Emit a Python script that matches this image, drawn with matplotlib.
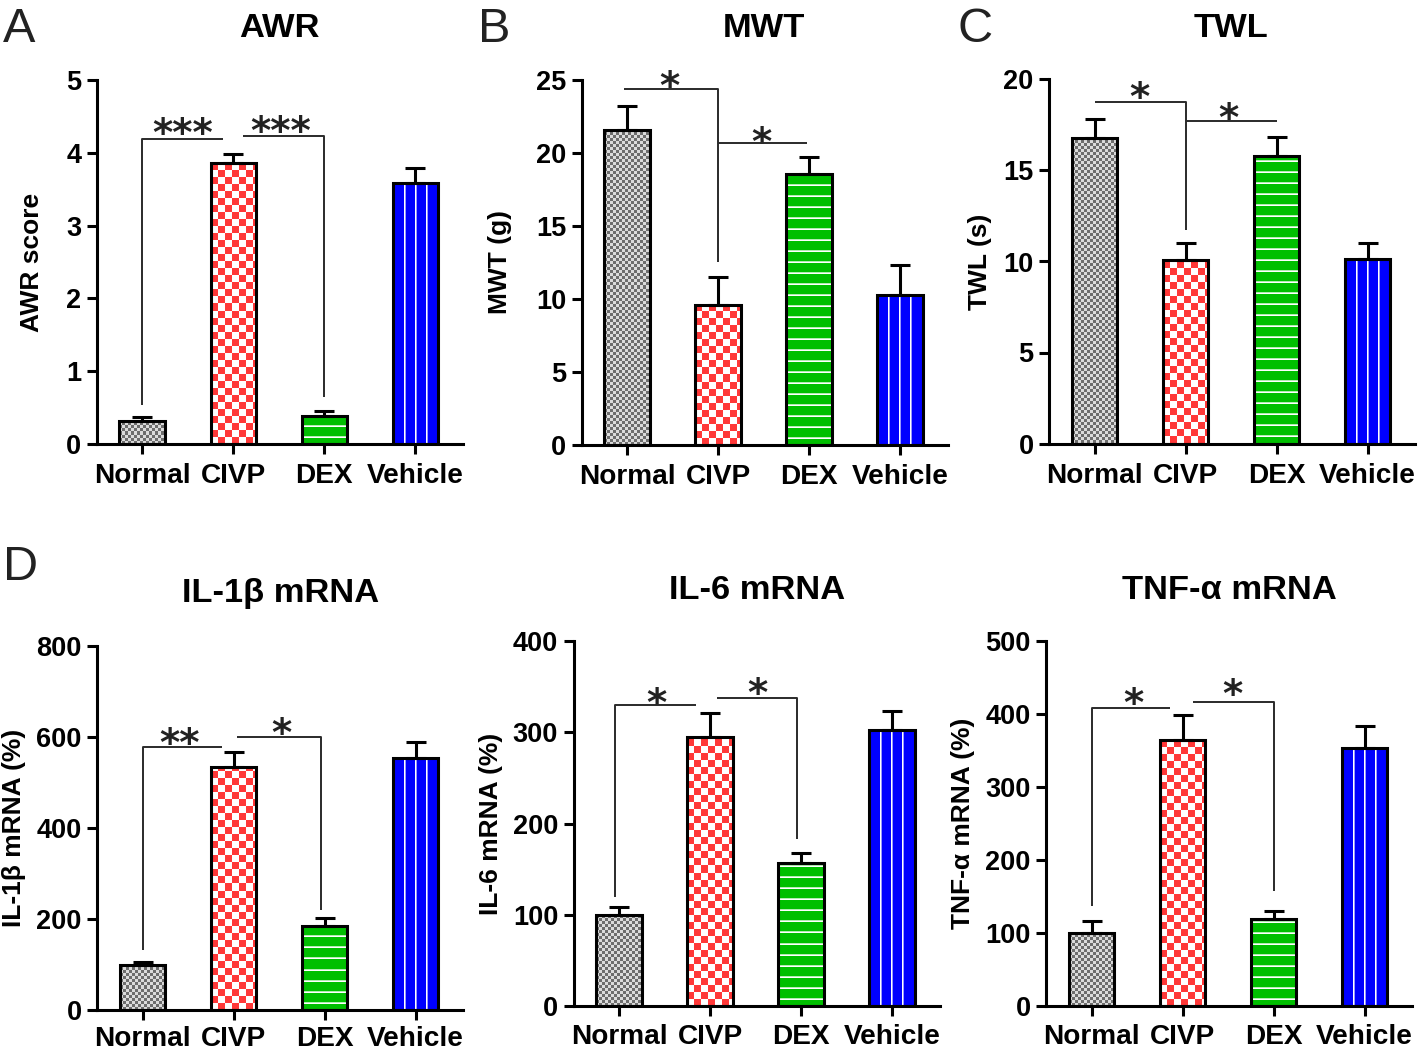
import numpy as np
import matplotlib
matplotlib.use("Agg")
import matplotlib.pyplot as plt

# ---------------- data ----------------
groups = ["Normal", "CIVP", "DEX", "Vehicle"]

awr_mean = [0.32, 3.86, 0.38, 3.58]
awr_sem = [0.05, 0.12, 0.07, 0.21]
mwt_mean = [21.6, 9.6, 18.55, 10.3]
mwt_sem = [1.6, 1.9, 1.2, 2.0]
twl_mean = [16.8, 10.1, 15.8, 10.15]
twl_sem = [1.03, 0.92, 1.06, 0.85]
il1b_mean = [100, 535, 185, 553]
il1b_sem = [6, 31, 18, 35]
il6_mean = [100, 295, 157, 302]
il6_sem = [8, 26, 11, 21]
tnfa_mean = [100, 364, 119, 353]
tnfa_sem = [16, 34, 11, 31]

titles = ["AWR", "MWT", "TWL", "IL-1\u03b2 mRNA", "IL-6 mRNA", "TNF-\u03b1 mRNA"]
ylabels = ["AWR score", "MWT (g)", "TWL (s)", "IL-1\u03b2 mRNA (%)", "IL-6 mRNA (%)",
           "TNF-\u03b1 mRNA (%)"]
yticks_list = [[0, 1, 2, 3, 4, 5], [0, 5, 10, 15, 20, 25], [0, 5, 10, 15, 20],
               [0, 200, 400, 600, 800], [0, 100, 200, 300, 400], [0, 100, 200, 300, 400, 500]]

# significance brackets: (xs, ys) polylines, and star labels (x, y, text)
sig_lines = [
    [([0, 0, 0.89], [0.54, 4.19, 4.19]), ([1.11, 2.0, 2.0], [4.23, 4.23, 0.65])],
    [([-0.03, 1, 1], [24.36, 24.36, 12.55]), ([1, 1.98], [20.66, 20.66])],
    [([0, 1, 1], [18.77, 18.77, 11.72]), ([1, 2], [17.71, 17.71])],
    [([0, 0, 0.87], [132, 579, 579]), ([1.04, 1.96, 1.96], [601, 601, 220])],
    [([-0.04, -0.04, 0.85], [120, 330, 330]), ([1.08, 1.95, 1.95], [338, 338, 183])],
    [([0, 0, 0.86], [137, 408, 408]), ([1.12, 2.0, 2.0], [416, 416, 157])],
]
sig_stars = [
    [(0.44, 4.40, "***"), (1.52, 4.43, "***")],
    [(0.47, 25.2, "*"), (1.48, 21.4, "*")],
    [(0.49, 19.52, "*"), (1.47, 18.4, "*")],
    [(0.41, 608, "**"), (1.52, 628, "*")],
    [(0.41, 342, "*"), (1.52, 353, "*")],
    [(0.46, 427, "*"), (1.55, 440, "*")],
]

means = [awr_mean, mwt_mean, twl_mean, il1b_mean, il6_mean, tnfa_mean]
sems = [awr_sem, mwt_sem, twl_sem, il1b_sem, il6_sem, tnfa_sem]

# ---------------- layout ----------------
W, H, DPI = 1418, 1052, 100
fig = plt.figure(figsize=(W / DPI, H / DPI), dpi=DPI)
FONT = "Liberation Sans"

# axes boxes in pixels: left, top, bottom
boxes = [(96.7, 80, 444), (581.5, 80, 445), (1049, 79.5, 443.5),
         (97, 646, 1010), (573.5, 641, 1006), (1046, 641, 1006)]
AX_W = 366
ylabel_x = [32, 500, 980, 14, 491, 963]
xpads = [6.5, 6.5, 6.5, 4.0, 5.5, 5.5]
title_pos = [(279.5, 37), (763.5, 37), (1230.5, 37), (281, 602), (757, 599), (1229, 599)]
letters = [("A", 3, 42), ("B", 478, 42), ("C", 958, 42), ("D", 3, 580)]

BAR_W = 0.5
LW = 2.2


def pattern(kind, nx, ny):
    nx = max(int(round(nx)), 1)
    ny = max(int(round(ny)), 1)
    img = np.ones((ny, nx, 3))
    ix = np.arange(nx)[None, :]
    iy = (ny - 1 - np.arange(ny))[:, None]
    if kind == 0:
        c = ((ix // 3 + iy // 3) % 2).astype(bool)
        dark = np.array([0.43, 0.43, 0.43])
        light = np.array([0.86, 0.86, 0.86])
        img[:] = light
        img[np.broadcast_to(c, (ny, nx))] = dark
    elif kind == 1:
        c = ((ix // 7 + iy // 7) % 2).astype(bool)
        red = np.array([1.0, 0.22, 0.22])
        img[:] = 1.0
        img[np.broadcast_to(c, (ny, nx))] = red
    elif kind == 2:
        green = np.array([0.0, 0.75, 0.0])
        img[:] = green
        r = (iy % 11)
        m1 = np.broadcast_to(r == 6, (ny, nx))
        m2 = np.broadcast_to(r == 7, (ny, nx))
        img[m2] = np.array([0.7, 0.93, 0.7])
        img[m1] = 1.0
    else:
        blue = np.array([0.0, 0.0, 1.0])
        img[:] = blue
        r = ix - 1
        m1 = np.broadcast_to((r == 10) | (r == 21) | (r == 32), (ny, nx))
        m2 = np.broadcast_to((r == 11) | (r == 22) | (r == 33), (ny, nx))
        img[m2] = np.array([0.6, 0.6, 1.0])
        img[m1] = 1.0
    return img


for i in range(6):
    left, top, bottom = boxes[i]
    ax = fig.add_axes([left / W, 1 - bottom / H, AX_W / W, (bottom - top) / H])
    yt = yticks_list[i]
    xs = np.arange(len(groups))
    ax.set_xlim(-0.5, 3.52)
    ax.set_ylim(0, yt[-1])

    # textured fills
    for j, (x, h) in enumerate(zip(xs, means[i])):
        p0 = ax.transData.transform((x - BAR_W / 2, 0))
        p1 = ax.transData.transform((x + BAR_W / 2, h))
        img = pattern(j, p1[0] - p0[0], p1[1] - p0[1])
        ax.imshow(img, extent=(x - BAR_W / 2, x + BAR_W / 2, 0, h), aspect="auto",
                  interpolation="nearest", zorder=1)
    ax.bar(xs, means[i], width=BAR_W, facecolor="none", edgecolor="black",
           linewidth=LW, zorder=3)
    ax.errorbar(xs, means[i], yerr=[np.zeros(4), sems[i]], fmt="none", ecolor="black",
                elinewidth=LW, capsize=7.2, capthick=LW, zorder=2)

    for (lx, ly) in sig_lines[i]:
        ax.plot(lx, ly, color="#2a2a2a", lw=1.4, solid_capstyle="butt", zorder=4,
                clip_on=False)
    for (sx, sy, st) in sig_stars[i]:
        size = 28
        ax.annotate(st, (sx, sy), xytext=(0, -0.57 * size), textcoords="offset points",
                    ha="center", va="baseline", fontsize=size, family="DejaVu Sans",
                    fontweight="bold", color="#222222", annotation_clip=False)

    ax.set_xlim(-0.5, 3.52)
    ax.set_ylim(0, yt[-1])
    ax.set_yticks(yt)
    ax.set_xticks(xs)
    ax.set_xticklabels(groups)
    for s in ["top", "right"]:
        ax.spines[s].set_visible(False)
    for s in ["left", "bottom"]:
        ax.spines[s].set_linewidth(LW)
    ax.tick_params(axis="both", direction="out", length=7.5, width=LW, color="black")
    ax.tick_params(axis="y", pad=3.5)
    ax.tick_params(axis="x", pad=xpads[i])
    for lab in ax.get_xticklabels():
        lab.set_fontfamily(FONT)
        lab.set_fontweight("bold")
        lab.set_fontsize(20.2)
    for lab in ax.get_yticklabels():
        lab.set_fontfamily(FONT)
        lab.set_fontweight("bold")
        lab.set_fontsize(19.5)

    ax.set_ylabel(ylabels[i], fontsize=19, fontweight="bold", family=FONT)
    ax.yaxis.set_label_coords(ylabel_x[i] / W, 1 - (top + bottom) / 2 / H,
                              transform=fig.transFigure)
    ax.yaxis.label.set_va("center")

    tx, ty = title_pos[i]
    fig.text(tx / W, 1 - ty / H, titles[i], ha="center", va="baseline", fontsize=24.8,
             fontweight="bold", family=FONT)

for (lt, lx, ly) in letters:
    fig.text(lx / W, 1 - ly / H, lt, ha="left", va="baseline", fontsize=35,
             family=FONT, color="#222222")

fig.savefig("out.png", dpi=DPI)
